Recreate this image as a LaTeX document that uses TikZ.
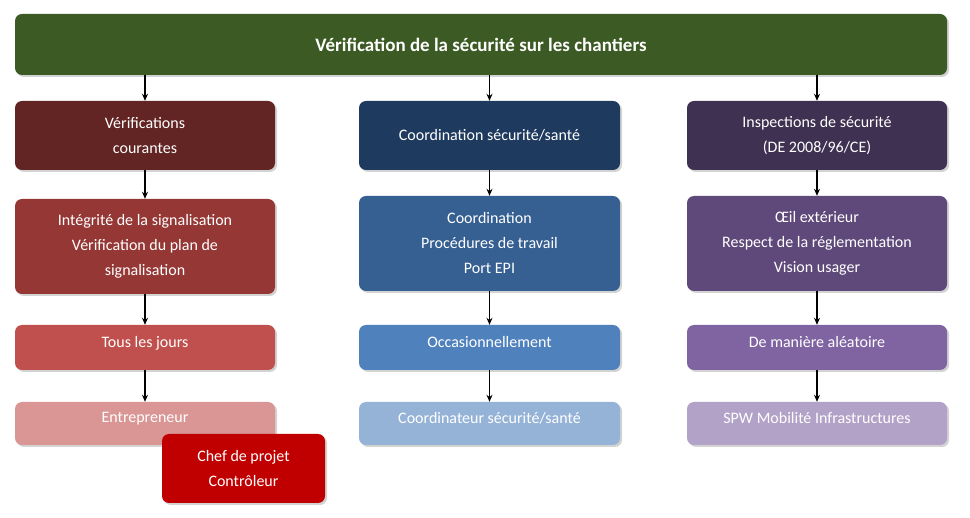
\documentclass[tikz,border=0pt]{standalone}
\usepackage{fontspec}
\setmainfont{Carlito}
\usetikzlibrary{shadows,arrows.meta}
\definecolor{topgreen}{HTML}{3C5A23}
\definecolor{redA}{HTML}{632523}
\definecolor{redB}{HTML}{953735}
\definecolor{redC}{HTML}{C0504D}
\definecolor{redD}{HTML}{D99694}
\definecolor{redE}{HTML}{C00000}
\definecolor{blueA}{HTML}{1F3A5F}
\definecolor{blueB}{HTML}{366092}
\definecolor{blueC}{HTML}{4F81BD}
\definecolor{blueD}{HTML}{95B3D7}
\definecolor{violA}{HTML}{3F3151}
\definecolor{violB}{HTML}{5F497A}
\definecolor{violC}{HTML}{8064A2}
\definecolor{violD}{HTML}{B2A2C7}
\begin{document}
\begin{tikzpicture}[x=1pt,y=-1pt,%
% common options for the boxes:
box/.style = {rounded corners=7pt, text=white, align=center, inner sep=0,
            minimum width=260pt, font=\fontsize{16}{25}\selectfont,
            drop shadow={shadow xshift=2pt,shadow yshift=-2pt,opacity=0.35}},
% common options for the arrows:
link/.style = {-{Stealth[length=7pt,width=6pt]}, line width=1.2pt}]
\useasboundingbox (0,0) rectangle (970,518);
\node[box,fill=topgreen,minimum width=932pt,minimum height=61pt,
  font=\fontsize{19}{23}\selectfont\bfseries] (top) at (481,44.5)
  {Vérification de la sécurité sur les chantiers};
% left column
\node[box,fill=redA,minimum height=69pt] (L1) at (145,135.5) {Vérifications\\courantes};
\node[box,fill=redB,minimum height=95pt] (L2) at (145,246.5)
  {Intégrité de la signalisation\\Vérification du plan de\\signalisation};
\node[box,fill=redC,minimum height=45pt,text depth=12pt] (L3) at (145,347.5) {Tous les jours};
\node[box,fill=redD,minimum height=43pt,text depth=12pt] (L4) at (145,423.5) {Entrepreneur};
\node[box,fill=redE,minimum width=163pt,minimum height=69pt] (L5) at (243.5,468.5)
  {Chef de projet\\Contrôleur};
% middle column
\node[box,fill=blueA,minimum width=261pt,minimum height=69pt] (M1) at (489.5,135.5)
  {Coordination sécurité/santé};
\node[box,fill=blueB,minimum width=261pt,minimum height=95pt] (M2) at (489.5,243.5)
  {Coordination\\Procédures de travail\\Port EPI};
\node[box,fill=blueC,minimum width=261pt,minimum height=45pt,text depth=12pt] (M3) at (489.5,347.5)
  {Occasionnellement};
\node[box,fill=blueD,minimum width=261pt,minimum height=43pt,text depth=12pt] (M4) at (489.5,423.5)
  {Coordinateur sécurité/santé};
% right column
\node[box,fill=violA,minimum height=69pt] (R1) at (817,135.5)
  {Inspections de sécurité\\(DE 2008/96/CE)};
\node[box,fill=violB,minimum height=95pt] (R2) at (817,243.5)
  {Œil extérieur\\Respect de la réglementation\\Vision usager};
\node[box,fill=violC,minimum height=45pt,text depth=12pt] (R3) at (817,347.5)
  {De manière aléatoire};
\node[box,fill=violD,minimum height=43pt,text depth=12pt] (R4) at (817,423.5)
  {SPW Mobilité Infrastructures};
\draw[link] (top.south -| L1) -- (L1.north);
\draw[link] (top.south -| M1) -- (M1.north);
\draw[link] (top.south -| R1) -- (R1.north);
\foreach \c in {L,M,R}{
  \draw[link] (\c1.south) -- (\c2.north);
  \draw[link] (\c2.south) -- (\c3.north);
  \draw[link] (\c3.south) -- (\c4.north);
}
\end{tikzpicture}
\end{document}
